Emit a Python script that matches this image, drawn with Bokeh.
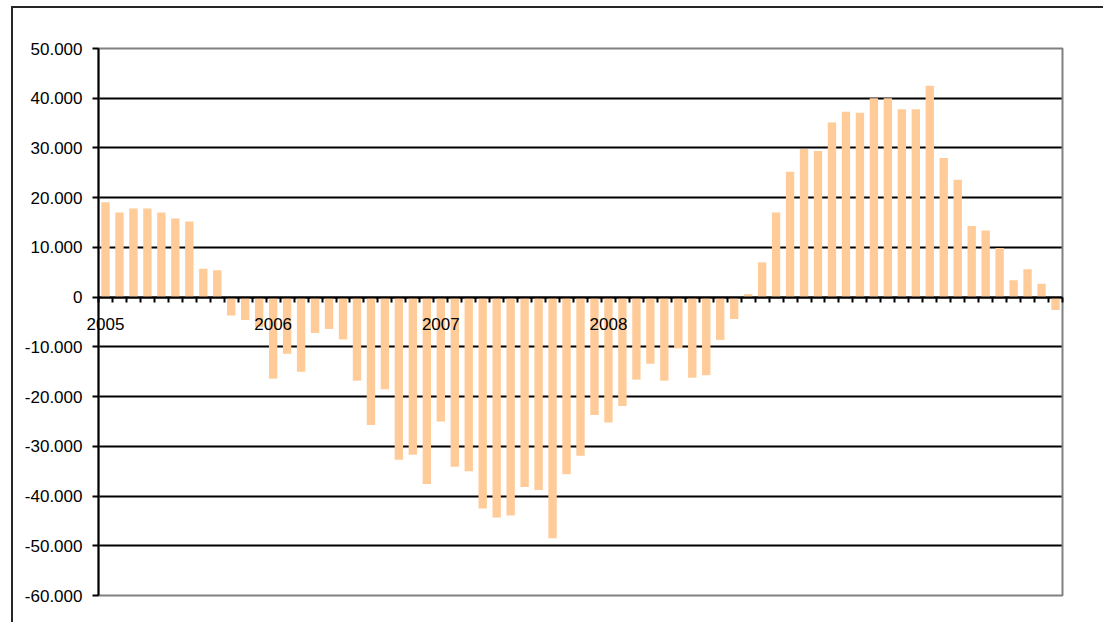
from bokeh.plotting import figure
from bokeh.models import (ColumnDataSource, LinearAxis, FixedTicker, Range1d, LabelSet,
                          BoxAnnotation)
from bokeh.core.properties import value
from bokeh.embed import file_html
from bokeh.resources import INLINE

# ---- data (monthly values, Jan 2005 .. Sep 2010) ----
values = [19100, 17000, 17800, 17800, 17000, 15800, 15200, 5700, 5400,
          -3700, -4600, -6000,
          -16400, -11400, -15000, -7200, -6400, -8500, -16800, -25700, -18500,
          -32700, -31700, -37600,
          -25000, -34100, -35000, -42500, -44300, -43900, -38200, -38800, -48500, -35600, -31900,
          -23700, -25200, -21900, -16600, -13400, -16800, -10300, -16200, -15700, -8600, -4400,
          600,
          7000, 17000, 25200, 29800, 29400, 35100, 37300, 37100, 40000, 40000, 37800, 37800,
          42500, 28000, 23600, 14300, 13400, 9900, 3400, 5600, 2700, -2600]
year_labels = ["2005", "2006", "2007", "2008"]
year_month_index = [0, 12, 24, 36]
y_ticks = [-60000, -50000, -40000, -30000, -20000, -10000, 0,
           10000, 20000, 30000, 40000, 50000]
y_tick_labels = ["-60.000", "-50.000", "-40.000", "-30.000", "-20.000", "-10.000", "0",
                 "10.000", "20.000", "30.000", "40.000", "50.000"]

n = len(values)
ymin, ymax = y_ticks[0], y_ticks[-1]
src = ColumnDataSource(dict(x=[i + 0.5 for i in range(n)], top=values))
ysrc = ColumnDataSource(dict(x=[i + 0.5 for i in year_month_index],
                             y=[0] * len(year_labels), text=year_labels))

FONT = "Liberation Sans"

# layout (pixels): plot area 964 x 547, starting 85 px right of the canvas edge
PW, PH = 964, 547
LEFT_PAD, RIGHT_PAD, TOP_PAD, BOT_PAD = 85, 10, 10, 10
sx = n / PW
sy = (ymax - ymin) / PH

p = figure(width=1092, height=616, output_backend="svg", toolbar_location=None,
           x_range=Range1d(-LEFT_PAD * sx, n + RIGHT_PAD * sx),
           y_range=Range1d(ymin - BOT_PAD * sy, ymax + TOP_PAD * sy),
           x_axis_type=None, min_border_left=0, min_border_right=43 - RIGHT_PAD,
           min_border_top=40 - TOP_PAD, min_border_bottom=29 - BOT_PAD,
           styles={"margin-left": "11px", "margin-top": "6px",
                   "border-left": "2px solid #262626",
                   "border-top": "2px solid #262626"})
p.background_fill_color = "white"
p.border_fill_color = "white"
p.outline_line_color = None

# plot-area border
p.add_layout(BoxAnnotation(left=0, right=n, bottom=ymin, top=ymax,
                           fill_color=None, fill_alpha=0,
                           line_color="#808080", line_alpha=1, line_width=2,
                           level="underlay"))

p.vbar(x="x", top="top", bottom=0, width=0.6, source=src,
       fill_color="#FFCC99", line_color=None)

# y axis (at x = 0)
ya = p.yaxis[0]
ya.fixed_location = 0
ya.bounds = (ymin, ymax)
ya.ticker = FixedTicker(ticks=y_ticks)
ya.major_label_overrides = {t: l for t, l in zip(y_ticks, y_tick_labels)}
ya.axis_line_color = "black"
ya.axis_line_width = 2
ya.major_tick_line_color = "black"
ya.major_tick_line_width = 2
ya.major_tick_in = 0
ya.major_tick_out = 6
ya.minor_tick_line_color = None
ya.major_label_standoff = 10
ya.major_label_text_font = FONT
ya.major_label_text_font_size = "17px"
ya.major_label_text_color = "black"

# grid
p.xgrid.visible = False
p.ygrid.ticker = FixedTicker(ticks=[t for t in y_ticks if ymin < t < ymax])
p.ygrid.cross_bounds = (0, n)
p.ygrid.grid_line_color = "black"
p.ygrid.grid_line_width = 2

# x axis at zero: month boundary ticks
xa = LinearAxis(fixed_location=0, bounds=(0, n),
                ticker=FixedTicker(ticks=list(range(n + 1))))
xa.major_label_overrides = {i: "" for i in range(n + 1)}
xa.axis_line_color = "black"
xa.axis_line_width = 2
xa.major_tick_line_color = "black"
xa.major_tick_line_width = 2
xa.major_tick_in = 0
xa.major_tick_out = 5
xa.minor_tick_line_color = None
p.add_layout(xa, "below")

# year labels under the zero line
p.add_layout(LabelSet(x="x", y="y", text="text", source=ysrc, y_offset=-21,
                      text_align="center", text_baseline="top",
                      text_font=value(FONT), text_font_size=value("17px"),
                      text_color="black"))

open("out.html", "w").write(file_html(p, INLINE))
